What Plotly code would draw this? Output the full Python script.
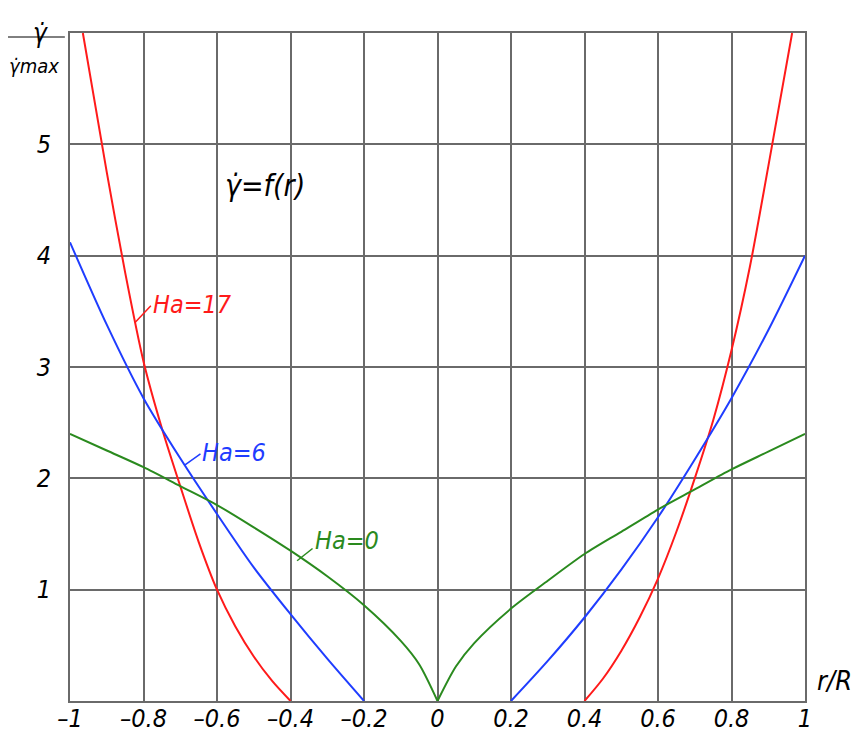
import plotly.graph_objects as go

# Ha = 17 (red) — two branches
ha17_left_x = [-0.965, -0.9, -0.85, -0.8, -0.75, -0.7, -0.65, -0.6, -0.55, -0.5, -0.45, -0.4]
ha17_left_y = [6.0, 4.75, 3.85, 3.05, 2.45, 1.93, 1.43, 1.0, 0.67, 0.4, 0.18, 0.0]
ha17_right_x = [0.4, 0.45, 0.5, 0.55, 0.6, 0.65, 0.7, 0.75, 0.8, 0.85, 0.9, 0.965]
ha17_right_y = [0.0, 0.2, 0.45, 0.75, 1.1, 1.52, 2.0, 2.52, 3.15, 3.9, 4.8, 6.0]

# Ha = 6 (blue) — two branches
ha6_left_x = [-1.0, -0.9, -0.8, -0.7, -0.6, -0.5, -0.4, -0.3, -0.2]
ha6_left_y = [4.12, 3.38, 2.72, 2.18, 1.68, 1.2, 0.78, 0.38, 0.0]
ha6_right_x = [0.2, 0.3, 0.4, 0.5, 0.6, 0.7, 0.8, 0.9, 1.0]
ha6_right_y = [0.0, 0.36, 0.75, 1.18, 1.65, 2.17, 2.72, 3.33, 4.0]

# Ha = 0 (green) — two branches meeting at the cusp
ha0_left_x = [-1.0, -0.9, -0.8, -0.7, -0.6, -0.5, -0.4, -0.3, -0.2, -0.1, -0.05, 0.0]
ha0_left_y = [2.4, 2.25, 2.1, 1.93, 1.76, 1.56, 1.35, 1.12, 0.86, 0.54, 0.33, 0.0]
ha0_right_x = [0.0, 0.05, 0.1, 0.2, 0.3, 0.4, 0.5, 0.6, 0.7, 0.8, 0.9, 1.0]
ha0_right_y = [0.0, 0.31, 0.52, 0.83, 1.08, 1.32, 1.52, 1.72, 1.9, 2.08, 2.24, 2.4]

x_ticks = [-1, -0.8, -0.6, -0.4, -0.2, 0, 0.2, 0.4, 0.6, 0.8, 1]
x_tick_text = ["–1", "–0.8", "–0.6", "–0.4", "–0.2", "0", "0.2", "0.4", "0.6", "0.8", "1"]
y_ticks = [1, 2, 3, 4, 5]
y_tick_text = ["1", "2", "3", "4", "5"]

FONT = "DejaVu Sans Condensed, DejaVu Sans, sans-serif"
GRID = "#6a6a6a"
RED, BLUE, GREEN = "#ff1a1a", "#1f3dff", "#2a8a1e"

fig = go.Figure()
for xs, ys, col in [(ha17_left_x, ha17_left_y, RED), (ha17_right_x, ha17_right_y, RED),
                    (ha6_left_x, ha6_left_y, BLUE), (ha6_right_x, ha6_right_y, BLUE),
                    (ha0_left_x, ha0_left_y, GREEN), (ha0_right_x, ha0_right_y, GREEN)]:
    fig.add_trace(go.Scatter(x=xs, y=ys, mode="lines",
                             line=dict(color=col, width=2, shape="spline", smoothing=0.8),
                             showlegend=False, hoverinfo="skip"))

# labels: (text, colour, curve point x, y, leader end x, y, text left x, y)
labels = [
    ("Ha=17", RED, -0.823, 3.40, -0.78, 3.55, -0.78, 3.56),
    ("Ha=6", BLUE, -0.687, 2.12, -0.645, 2.22, -0.645, 2.23),
    ("Ha=0", GREEN, -0.382, 1.26, -0.34, 1.37, -0.34, 1.44),
]
for text, color, px, py, ex, ey, tx, ty in labels:
    fig.add_shape(type="line", x0=px, y0=py, x1=ex, y1=ey, line=dict(color=color, width=1.5))
    fig.add_annotation(x=tx, y=ty, text="<i>" + text + "</i>", showarrow=False,
                       font=dict(family=FONT, size=25, color=color), xanchor="left", yanchor="middle")

fig.add_annotation(x=-0.47, y=4.63, text="<i>γ̇=f(r)</i>", showarrow=False,
                   font=dict(family=FONT, size=30, color="black"), xanchor="center")

# y-axis fraction title
fig.add_annotation(xref="paper", yref="paper", x=0, y=1.0, xshift=-30, yshift=17, text="<i>γ̇</i>",
                   showarrow=False, font=dict(family=FONT, size=26, color="black"), xanchor="center")
fig.add_annotation(xref="paper", yref="paper", x=0, y=1.0, xshift=-9, yshift=-19, text="<i>γ̇max</i>",
                   showarrow=False, font=dict(family=FONT, size=20, color="black"), xanchor="right")
fig.add_shape(type="line", xref="paper", yref="paper", x0=-0.086, x1=-0.007, y0=0.994, y1=0.994,
              line=dict(color="black", width=1))

fig.add_annotation(xref="paper", yref="paper", x=1.066, y=0.005, text="<i>r/R</i>",
                   showarrow=False, font=dict(family=FONT, size=27, color="black"))

fig.update_xaxes(range=[-1, 1], tickvals=x_ticks, ticktext=x_tick_text, showgrid=True,
                 gridcolor=GRID, gridwidth=2, zeroline=False, showline=True, linecolor=GRID,
                 linewidth=2, mirror=True, ticks="", automargin=False, ticklabelstandoff=-6,
                 tickfont=dict(family=FONT, size=25, color="black", style="italic"))
fig.update_yaxes(range=[0, 6], tickvals=y_ticks, ticktext=y_tick_text, showgrid=True,
                 gridcolor=GRID, gridwidth=2, zeroline=False, showline=True, linecolor=GRID,
                 linewidth=2, mirror=True, ticks="", ticklabelstandoff=12, automargin=False,
                 tickfont=dict(family=FONT, size=25, color="black", style="italic"))

# the page adds an ~8px body margin, so the figure is offset accordingly
fig.update_layout(width=853, height=725, margin=dict(l=62, r=56, t=25, b=32, autoexpand=False),
                  plot_bgcolor="white", paper_bgcolor="white")

fig.write_html("out.html")
